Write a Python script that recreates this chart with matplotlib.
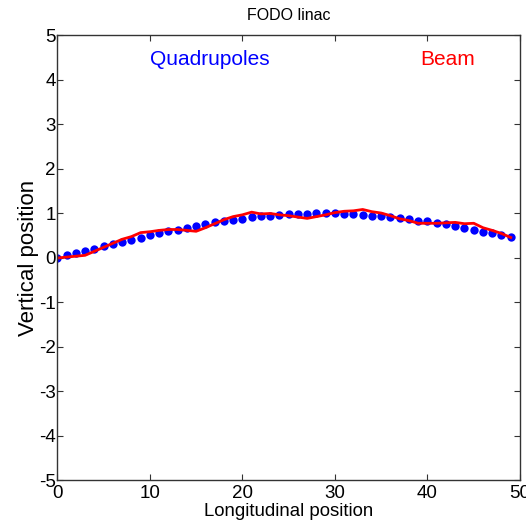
import numpy as np
import matplotlib

matplotlib.use('Agg')
import matplotlib.pyplot as plt

plt.rcParams['font.family'] = ['Liberation Sans', 'DejaVu Sans']
plt.rcParams['axes.unicode_minus'] = False

# Quadrupole positions and offsets
quad_x = np.arange(50)
quad_y = [
    0.00, 0.06, 0.11, 0.16, 0.21, 0.26, 0.32, 0.36, 0.40, 0.46,
    0.51, 0.56, 0.60, 0.64, 0.68, 0.73, 0.77, 0.80, 0.83, 0.85,
    0.88, 0.91, 0.94, 0.95, 0.97, 0.98, 0.98, 0.98, 1.00, 1.00,
    1.00, 0.98, 0.98, 0.97, 0.95, 0.94, 0.92, 0.89, 0.87, 0.84,
    0.82, 0.79, 0.76, 0.72, 0.68, 0.64, 0.59, 0.56, 0.52, 0.47,
]

# Beam trajectory
beam_x = np.arange(50)
beam_y = [
    0.00, 0.02, 0.04, 0.06, 0.15, 0.24, 0.33, 0.42, 0.48, 0.57,
    0.59, 0.62, 0.64, 0.64, 0.62, 0.60, 0.68, 0.77, 0.86, 0.93,
    0.97, 1.03, 0.99, 1.00, 0.97, 0.95, 0.92, 0.89, 0.93, 0.97,
    1.02, 1.05, 1.06, 1.09, 1.04, 1.01, 0.95, 0.88, 0.84, 0.78,
    0.78, 0.78, 0.79, 0.80, 0.77, 0.78, 0.68, 0.62, 0.55, 0.46,
]

fig = plt.figure(figsize=(5.26, 5.25), dpi=100)
ax = fig.add_axes([0.109, 0.0848, 0.8796, 0.8476])

ax.plot(quad_x, quad_y, linestyle="none", marker="o", markersize=6,
        color="blue", markeredgewidth=0)
ax.plot(beam_x, beam_y, color="red", linewidth=2)

ax.text(10.0, 4.47, "Quadrupoles", color="blue", fontsize=15, va="center")
ax.text(39.2, 4.47, "Beam", color="red", fontsize=15, va="center")

ax.set_xlim(0, 50)
ax.set_ylim(-5, 5)
ax.set_xticks(range(0, 51, 10))
ax.set_yticks(range(-5, 6))
ax.tick_params(direction="in", top=True, right=True, labelsize=13.5, length=4,
               color="#333333")
ax.tick_params(axis="x", pad=3)
ax.tick_params(axis="y", pad=1)
for spine in ax.spines.values():
    spine.set_color("#333333")
    spine.set_linewidth(1)

ax.set_title("FODO linac", fontsize=11.5, pad=11)
ax.set_xlabel("Longitudinal position", fontsize=13.4, labelpad=1)
ax.set_ylabel("Vertical position", fontsize=16, labelpad=0)

fig.savefig("out.png", dpi=100)
plt.close(fig)
